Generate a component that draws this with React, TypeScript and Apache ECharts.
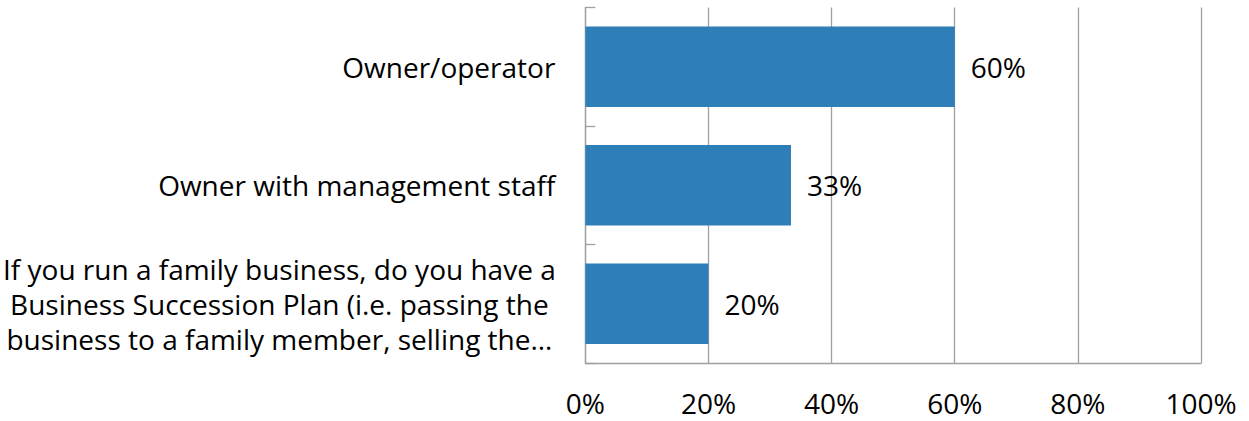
import React, { useEffect, useRef } from "react";
import * as echarts from "echarts";

const categories: string[] = [
  "Owner/operator",
  "Owner with management staff",
  "If you run a family business, do you have a\nBusiness Succession Plan (i.e. passing the\nbusiness to a family member, selling the…",
];
const values: number[] = [60, 33.4, 20];
const xTicks: number[] = [0, 20, 40, 60, 80, 100];

const FONT = "Open Sans";
const FS = 28;

export default function App() {
  const ref = useRef<HTMLDivElement>(null);
  useEffect(() => {
    if (!ref.current) return;
    const chart = echarts.init(ref.current, undefined, { renderer: "svg" });
    chart.setOption({
      animation: false,
      grid: { left: 585, right: 48, top: 7.5, bottom: 58, containLabel: false },
      xAxis: {
        type: "value",
        min: xTicks[0],
        max: xTicks[xTicks.length - 1],
        interval: 20,
        axisLine: { show: true, lineStyle: { color: "#A0A0A0", width: 1.3 } },
        axisTick: { show: false },
        splitLine: { show: true, lineStyle: { color: "#A0A0A0", width: 1.3 } },
        axisLabel: {
          margin: 26,
          fontSize: FS,
          fontFamily: FONT,
          color: "#000",
          formatter: (v: number) => `${v}%`,
        },
      },
      yAxis: {
        type: "category",
        inverse: true,
        data: categories,
        axisLine: { show: true, lineStyle: { color: "#A0A0A0", width: 1.3 } },
        axisTick: { show: true, inside: true, length: 10, lineStyle: { color: "#A0A0A0", width: 1.3 } },
        axisLabel: {
          margin: 30,
          fontSize: FS,
          fontFamily: FONT,
          color: "#000",
          lineHeight: 35,
          formatter: (v: string) =>
            v.indexOf("\n") >= 0
              ? v
                  .split("\n")
                  .map((l) => `{c|${l}}`)
                  .join("\n")
              : v,
          rich: {
            c: { width: 552, align: "center", fontSize: FS, fontFamily: FONT, lineHeight: 35, color: "#000" },
          },
        },
      },
      series: [
        {
          type: "bar",
          data: values,
          barCategoryGap: "32%",
          itemStyle: { color: "#2E7EB8" },
          label: {
            show: true,
            position: "right",
            distance: 16,
            fontSize: FS,
            fontFamily: FONT,
            color: "#000",
            formatter: (p: any) => `${Math.round(p.value)}%`,
          },
        },
      ],
    });
    return () => chart.dispose();
  }, []);
  return (
    <div
      ref={ref}
      style={{ position: "absolute", left: 0, top: 0, width: 1249, height: 421 }}
    />
  );
}
